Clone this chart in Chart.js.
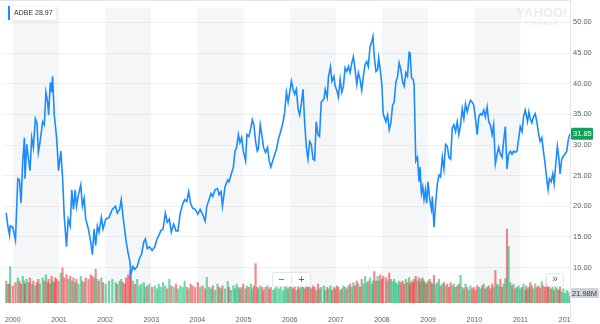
<!DOCTYPE html>
<html>
<head>
<meta charset="utf-8">
<script src="https://cdn.jsdelivr.net/npm/chart.js@4/dist/chart.umd.min.js"></script>
<style>
  html, body { margin: 0; padding: 0; background: #fff; }
  #wrap { width: 600px; height: 324px; position: relative; }
</style>
</head>
<body>
<div id="wrap"><canvas id="c" width="600" height="324"></canvas></div>
<script>
// ADBE weekly closes and volumes, dates as decimal years
const ticker = 'ADBE';
const legendValue = 28.97;

const dates = [
  1999.856, 1999.892, 1999.929, 1999.942, 2000.000, 2000.058, 2000.108, 2000.144, 2000.179, 2000.216,
  2000.252, 2000.265, 2000.302, 2000.345, 2000.373, 2000.410, 2000.446, 2000.489, 2000.524, 2000.554,
  2000.589, 2000.647, 2000.683, 2000.718, 2000.755, 2000.776, 2000.813, 2000.841, 2000.862, 2000.899,
  2000.921, 2000.949, 2000.992, 2001.041, 2001.078, 2001.115, 2001.164, 2001.201, 2001.244, 2001.279,
  2001.315, 2001.352, 2001.380, 2001.423, 2001.473, 2001.509, 2001.546, 2001.580, 2001.639, 2001.688,
  2001.725, 2001.762, 2001.796, 2001.833, 2001.869, 2001.919, 2001.956, 2002.012, 2002.085, 2002.156,
  2002.227, 2002.264, 2002.314, 2002.350, 2002.387, 2002.430, 2002.458, 2002.501, 2002.538, 2002.559,
  2002.602, 2002.646, 2002.695, 2002.745, 2002.788, 2002.840, 2002.874, 2002.917, 2002.960, 2003.019,
  2003.077, 2003.126, 2003.163, 2003.206, 2003.256, 2003.305, 2003.348, 2003.392, 2003.435, 2003.486,
  2003.536, 2003.579, 2003.629, 2003.680, 2003.724, 2003.773, 2003.810, 2003.853, 2003.896, 2003.952,
  2004.010, 2004.060,
  2004.112, 2004.168, 2004.204, 2004.254, 2004.297, 2004.334, 2004.383, 2004.435, 2004.470, 2004.513,
  2004.543, 2004.599, 2004.657, 2004.685, 2004.728, 2004.780, 2004.815, 2004.851, 2004.888, 2004.922,
  2004.959, 2004.996, 2005.045, 2005.073, 2005.116, 2005.160, 2005.190, 2005.224, 2005.261, 2005.298,
  2005.319, 2005.362, 2005.405, 2005.433, 2005.477, 2005.520, 2005.556, 2005.591, 2005.643, 2005.677,
  2005.714, 2005.763, 2005.806, 2005.858, 2005.893, 2005.929, 2005.966, 2006.000, 2006.037, 2006.074,
  2006.108, 2006.145, 2006.182, 2006.216, 2006.253, 2006.289, 2006.324, 2006.361, 2006.397, 2006.432,
  2006.468, 2006.505, 2006.540, 2006.576, 2006.613, 2006.647, 2006.684, 2006.742, 2006.770, 2006.813,
  2006.841, 2006.884, 2006.915, 2006.958, 2006.986, 2007.022, 2007.057, 2007.094, 2007.130, 2007.165,
  2007.201, 2007.238, 2007.273, 2007.309, 2007.346, 2007.380, 2007.417, 2007.454, 2007.488, 2007.525,
  2007.561, 2007.596, 2007.633, 2007.669, 2007.704, 2007.740, 2007.777, 2007.805, 2007.833, 2007.870,
  2007.906, 2007.928, 2007.963, 2007.999, 2008.027, 2008.085, 2008.122, 2008.157, 2008.193, 2008.230,
  2008.264, 2008.301, 2008.338, 2008.372,
  2008.409, 2008.446, 2008.480, 2008.517, 2008.553, 2008.588, 2008.609, 2008.640, 2008.674, 2008.696,
  2008.732, 2008.769, 2008.803, 2008.825, 2008.855, 2008.883, 2008.911, 2008.941, 2008.969, 2008.997,
  2009.034, 2009.071, 2009.092, 2009.127, 2009.163, 2009.200, 2009.235, 2009.271, 2009.308, 2009.342,
  2009.379, 2009.416, 2009.450, 2009.487, 2009.524, 2009.558, 2009.595, 2009.631, 2009.666, 2009.703,
  2009.739, 2009.774, 2009.810, 2009.847, 2009.881, 2009.918, 2009.955, 2009.989, 2010.026, 2010.063,
  2010.097, 2010.134, 2010.170, 2010.205, 2010.241, 2010.278, 2010.313, 2010.349, 2010.386, 2010.420,
  2010.457, 2010.494, 2010.528, 2010.565, 2010.602, 2010.636, 2010.673, 2010.709, 2010.744, 2010.781,
  2010.817, 2010.852, 2010.888, 2010.925, 2010.960, 2010.996, 2011.033, 2011.067, 2011.104, 2011.126,
  2011.154, 2011.184, 2011.212, 2011.248, 2011.283, 2011.320, 2011.356, 2011.391, 2011.427, 2011.464,
  2011.498, 2011.535, 2011.572, 2011.600, 2011.628, 2011.665, 2011.701, 2011.729, 2011.766, 2011.800,
  2011.831, 2011.859, 2011.895, 2011.930, 2011.966, 2012.003, 2012.038, 2012.074
];

const closes = [
  18.95, 16.8, 15.3, 16.8, 16.6, 14.5, 24.5, 24.3, 20.5, 27.4,
  31.2, 24.5, 30.1, 27.4, 25.8, 31.2, 29.6, 34.3, 33.6, 28.8,
  30.4, 33.8, 33.3, 38.6, 37.0, 34.9, 40.2, 38.6, 41.2, 34.9,
  33.3, 31.2, 25.8, 29.0, 24.8, 18.4, 13.4, 17.9, 16.8, 22.7,
  19.5, 22.7, 20.0, 21.9, 23.5, 20.0, 21.3, 17.9, 16.3, 14.2,
  12.1, 16.3, 13.6, 16.8, 15.8, 18.2, 16.3, 17.9, 18.2, 19.5,
  20.0, 18.9, 19.5, 21.1, 18.4, 15.8, 14.2, 12.3, 11.0, 8.9,
  10.2, 9.7, 10.2, 11.5, 12.1, 14.2, 14.7, 13.1, 13.4, 12.8,
  13.4, 14.7, 15.2, 16.0, 16.3, 18.9, 17.4, 17.9, 15.8, 17.1,
  16.0, 16.0, 18.9, 20.3, 21.1, 20.8, 22.4, 20.5, 19.7, 19.5,
  18.7, 19.5,
  18.7, 17.6, 20.0, 21.1, 22.1, 21.6, 22.7, 22.9, 21.9, 22.4,
  20.0, 23.2, 24.3, 24.0, 25.1, 26.4, 29.0, 29.6, 31.7, 30.4,
  31.2, 29.0, 27.4, 31.7, 31.4, 32.8, 34.1, 33.3, 30.6, 29.0,
  29.3, 33.3, 31.2, 29.6, 28.8, 29.6, 27.4, 26.4, 27.7, 28.5,
  29.3, 31.2, 32.2, 33.8, 35.4, 38.6, 37.0, 38.6, 40.4, 39.1,
  38.3, 39.1, 35.9, 34.9, 36.7, 39.1, 33.8, 29.6, 27.7, 30.6,
  30.1, 27.7, 27.5, 33.8, 31.7, 31.4, 37.0, 37.5, 39.1, 37.8,
  41.2, 42.8, 40.4, 41.2, 39.6, 38.9, 37.8, 40.7, 38.6, 39.6,
  42.6, 42.0, 42.8, 41.8, 43.4, 44.4, 42.3, 39.9, 41.8, 40.7,
  38.9, 41.2, 43.1, 43.6, 42.8, 46.0, 46.8, 47.7, 44.4, 42.0,
  42.3, 44.2, 42.3, 39.6, 35.1, 33.8, 34.9, 32.5, 33.6, 36.5,
  37.0, 40.2, 41.2, 43.4,
  42.3, 40.4, 39.6, 41.8, 41.2, 45.1, 45.0, 41.0, 40.7, 39.9,
  27.4, 28.0, 24.0, 26.4, 22.1, 23.2, 21.1, 22.7, 20.5, 24.0,
  21.1, 19.5, 21.6, 16.6, 20.5, 23.7, 25.1, 24.8, 28.0, 26.1,
  30.1, 29.8, 28.0, 27.7, 32.8, 33.3, 32.2, 33.8, 31.7, 33.3,
  35.9, 34.3, 36.7, 35.4, 36.5, 37.3, 37.0, 36.5, 34.3, 31.7,
  34.6, 35.1, 34.9, 35.7, 34.6, 36.2, 33.8, 33.3, 31.7, 33.3,
  26.9, 28.5, 29.6, 28.5, 28.0, 30.6, 33.0, 26.1, 28.5, 29.0,
  28.5, 29.0, 28.8, 29.0, 30.9, 33.0, 32.2, 34.6, 35.7, 34.9,
  33.8, 35.4, 34.3, 33.6, 34.6, 35.1, 33.8, 31.9, 30.6, 31.2,
  29.0, 26.9, 24.3, 22.7, 24.5, 24.0, 25.3, 23.7, 26.9, 29.8,
  28.0, 25.3, 27.7, 28.2, 28.5, 29.0, 30.9, 31.85
];

// weekly volume, millions of shares
const volumes = [
  70, 60, 60, 115, 55, 65, 80, 70, 60, 85,
  70, 60, 75, 65, 80, 60, 70, 55, 65, 75,
  60, 80, 70, 90, 65, 75, 60, 85, 70, 65,
  80, 75, 70, 95, 112, 80, 90, 75, 85, 70,
  80, 65, 75, 60, 85, 70, 65, 80, 75, 90,
  85, 80, 108, 75, 70, 80, 65, 60, 70, 75,
  65, 60, 70, 75, 65, 60, 80, 90, 102, 85,
  70, 60, 75, 55, 60, 65, 50, 55, 60, 50,
  55, 45, 60, 50, 65, 55, 45, 75, 55, 50,
  60, 45, 55, 50, 70, 50, 45, 60, 55, 50,
  65, 50,
  55, 45, 82, 50, 45, 55, 40, 60, 50, 45,
  55, 45, 68, 50, 40, 55, 45, 60, 50, 45,
  50, 60, 45, 55, 50, 60, 45, 55, 125, 50,
  45, 55, 50, 40, 50, 55, 45, 50, 40, 45,
  50, 45, 55, 40, 50, 60, 45, 50, 55, 45,
  50, 40, 55, 45, 60, 50, 45, 65, 55, 50,
  45, 55, 50, 40, 60, 45, 50, 55, 40, 50,
  45, 55, 40, 50, 45, 55, 50, 40, 45, 55,
  50, 45, 55, 60, 50, 65, 55, 70, 60, 50,
  75, 60, 85, 65, 70, 80, 60, 70, 100, 70,
  85, 70, 90, 75, 85, 80, 70, 95, 75, 68,
  75, 65, 60, 70,
  65, 70, 60, 75, 65, 80, 60, 70, 65, 75,
  85, 70, 80, 65, 75, 80, 70, 65, 60, 70,
  75, 65, 60, 88, 60, 65, 75, 55, 60, 65,
  55, 60, 50, 65, 55, 60, 50, 55, 60, 88,
  50, 45, 60, 50, 40, 55, 45, 50, 40, 55,
  50, 45, 55, 60, 45, 50, 55, 45, 60, 50,
  103, 60, 55, 75, 50, 60, 78, 235, 180, 65,
  55, 60, 45, 50, 55, 45, 50, 60, 40, 55,
  45, 50, 65, 55, 45, 60, 50, 55, 48, 68,
  55, 50, 78, 60, 50, 45, 55, 40, 50, 45,
  40, 50, 35, 45, 30, 40, 35, 21.98
];

const yearTicks = [2000, 2001, 2002, 2003, 2004, 2005, 2006, 2007, 2008, 2009, 2010, 2011, 2012];
const priceTicks = [10, 15, 20, 25, 30, 35, 40, 45, 50];

const FONT = '"Liberation Sans", Arial, Helvetica, sans-serif';
const TEXT = '#5b636a';
const UP = 'rgba(0,180,100,0.55)';
const DOWN = 'rgba(237,40,40,0.55)';

const n = Math.min(dates.length, closes.length, volumes.length);
const pricePts = [], volPts = [], volColors = [];
for (let i = 0; i < n; i++) {
  pricePts.push({ x: dates[i], y: closes[i] });
  volPts.push({ x: dates[i], y: volumes[i] });
  volColors.push(i === 0 || closes[i] >= closes[i - 1] ? UP : DOWN);
}
const lastClose = closes[n - 1];
const lastVol = volumes[n - 1];

function roundRect(ctx, x, y, w, h, r) {
  ctx.beginPath();
  ctx.moveTo(x + r, y);
  ctx.lineTo(x + w - r, y);
  ctx.quadraticCurveTo(x + w, y, x + w, y + r);
  ctx.lineTo(x + w, y + h - r);
  ctx.quadraticCurveTo(x + w, y + h, x + w - r, y + h);
  ctx.lineTo(x + r, y + h);
  ctx.quadraticCurveTo(x, y + h, x, y + h - r);
  ctx.lineTo(x, y + r);
  ctx.quadraticCurveTo(x, y, x + r, y);
  ctx.closePath();
}

// alternate-year shading behind everything
const yearBands = {
  id: 'yearBands',
  beforeDraw(chart) {
    const { ctx, chartArea: a, scales: { x } } = chart;
    ctx.save();
    ctx.fillStyle = '#f5f6f7';
    for (let i = 0; i + 1 < yearTicks.length; i += 2) {
      const x0 = Math.max(a.left, x.getPixelForValue(yearTicks[i]));
      const x1 = Math.min(a.right, x.getPixelForValue(yearTicks[i + 1]));
      if (x1 > x0) ctx.fillRect(x0, a.top, x1 - x0, a.bottom - a.top);
    }
    ctx.restore();
  }
};

// frame, watermark, legend chip, badges and zoom controls
const overlay = {
  id: 'overlay',
  afterDraw(chart) {
    const { ctx, chartArea: a, scales: { y, vol } } = chart;
    ctx.save();

    // clip the x labels at the price-axis edge
    ctx.fillStyle = '#fff';
    ctx.fillRect(a.right, a.bottom + 1, chart.width - a.right, chart.height - a.bottom);

    // frame lines
    ctx.strokeStyle = '#e3e5e8';
    ctx.lineWidth = 1;
    ctx.beginPath();
    ctx.moveTo(0, 0.5); ctx.lineTo(a.right, 0.5);
    ctx.moveTo(a.right + 0.5, 0); ctx.lineTo(a.right + 0.5, chart.height);
    ctx.stroke();

    // watermark
    ctx.fillStyle = 'rgba(60,70,80,0.10)';
    ctx.textAlign = 'center';
    ctx.textBaseline = 'alphabetic';
    ctx.font = 'bold 13px ' + FONT;
    ctx.fillText('YAHOO!', 542, 17);
    ctx.font = 'bold 6px ' + FONT;
    if ('letterSpacing' in ctx) ctx.letterSpacing = '1px';
    ctx.fillText('FINANCE', 542, 25);
    if ('letterSpacing' in ctx) ctx.letterSpacing = '0px';

    // legend chip
    ctx.shadowColor = 'rgba(0,0,0,0.12)';
    ctx.shadowBlur = 2;
    ctx.fillStyle = '#fff';
    ctx.fillRect(8, 6, 48, 14);
    ctx.shadowBlur = 0;
    ctx.shadowColor = 'transparent';
    ctx.fillStyle = '#1a8cff';
    ctx.fillRect(8, 6, 2, 14);
    ctx.fillStyle = '#333';
    ctx.textAlign = 'left';
    ctx.textBaseline = 'middle';
    ctx.font = '7px ' + FONT;
    ctx.fillText(ticker + ' ' + legendValue.toFixed(2), 14, 13.5);

    // last price badge
    const py = y.getPixelForValue(lastClose);
    ctx.fillStyle = '#12a35a';
    roundRect(ctx, a.right + 1, py - 6, 22, 12, 1.5);
    ctx.fill();
    ctx.fillStyle = '#fff';
    ctx.font = '7.5px ' + FONT;
    ctx.fillText(lastClose.toFixed(2), a.right + 3, py + 0.5);

    // last volume badge
    const vy = vol.getPixelForValue(lastVol) - 3;
    ctx.fillStyle = '#cfd4d9';
    roundRect(ctx, a.right + 1, vy - 5, 28, 10, 1.5);
    ctx.fill();
    ctx.fillStyle = '#3c4046';
    ctx.font = '7.5px ' + FONT;
    ctx.fillText(lastVol.toFixed(2) + 'M', a.right + 2, vy + 0.5);

    // zoom buttons
    ctx.fillStyle = 'rgba(255,255,255,0.9)';
    ctx.strokeStyle = '#e2e4e7';
    roundRect(ctx, 272.5, 272.5, 38, 14, 2);
    ctx.fill(); ctx.stroke();
    ctx.beginPath();
    ctx.moveTo(291.5, 275); ctx.lineTo(291.5, 284);
    ctx.stroke();
    ctx.fillStyle = '#5b636a';
    ctx.textAlign = 'center';
    ctx.font = '11px ' + FONT;
    ctx.fillText('\u2212', 281.5, 279.5);
    ctx.fillText('+', 301.5, 279.5);

    // scroll-forward button
    ctx.fillStyle = 'rgba(255,255,255,0.9)';
    roundRect(ctx, 546.5, 273.5, 17, 13, 2);
    ctx.fill(); ctx.stroke();
    ctx.fillStyle = '#5b636a';
    ctx.font = '10px ' + FONT;
    ctx.fillText('\u00bb', 555, 279.5);

    ctx.restore();
  }
};

new Chart(document.getElementById('c'), {
  type: 'bar',
  data: {
    datasets: [
      {
        type: 'line',
        label: ticker,
        data: pricePts,
        xAxisID: 'x',
        yAxisID: 'y',
        borderColor: '#1a8cff',
        borderWidth: 1.6,
        pointRadius: 0,
        tension: 0,
        fill: false,
        order: 0
      },
      {
        type: 'bar',
        label: 'Volume',
        data: volPts,
        xAxisID: 'x',
        yAxisID: 'vol',
        backgroundColor: volColors,
        borderWidth: 0,
        barThickness: 1.5,
        order: 1
      }
    ]
  },
  options: {
    responsive: false,
    animation: false,
    devicePixelRatio: 1,
    layout: { padding: 0 },
    plugins: { legend: { display: false }, tooltip: { enabled: false } },
    scales: {
      x: {
        type: 'linear',
        position: 'bottom',
        min: 1999.7844,
        max: 2012.0742,
        offset: false,
        afterBuildTicks: s => { s.ticks = yearTicks.map(v => ({ value: v })); },
        afterFit: s => { s.height = 21; },
        grid: { display: false },
        border: { display: false },
        ticks: {
          autoSkip: false,
          maxRotation: 0,
          padding: 5,
          color: TEXT,
          font: { family: FONT, size: 7 },
          callback: v => String(v)
        }
      },
      y: {
        type: 'linear',
        position: 'right',
        min: 4.23,
        max: 52.43,
        afterBuildTicks: s => { s.ticks = priceTicks.map(v => ({ value: v })); },
        afterFit: s => { s.width = 30; },
        grid: { color: 'rgba(0,0,0,0.055)', drawTicks: false },
        border: { display: false },
        ticks: {
          padding: 3,
          color: TEXT,
          font: { family: FONT, size: 7.5 },
          callback: v => Number(v).toFixed(2)
        }
      },
      vol: {
        type: 'linear',
        display: false,
        min: 0,
        max: 940,
        grid: { display: false }
      }
    }
  },
  plugins: [yearBands, overlay]
});
</script>
</body>
</html>
